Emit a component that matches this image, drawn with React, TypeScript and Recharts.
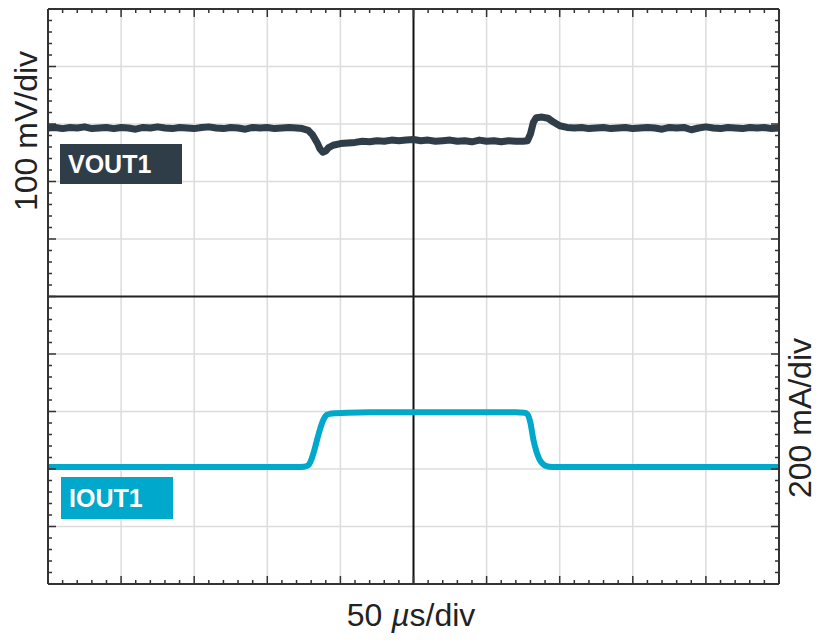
import React from "react";
import {
  ComposedChart,
  Line,
  XAxis,
  YAxis,
  ReferenceLine,
} from "recharts";

// time base: 50 us/div, 10 divisions
const TIME_DOMAIN: [number, number] = [0, 500];
const TIME_TICKS = Array.from({ length: 51 }, (_, i) => i * 10);
const TIME_GRID = [50, 100, 150, 200, 300, 350, 400, 450];
const TIME_CENTER = 250;

// VOUT1 deviation in mV (100 mV/div), IOUT1 in mA (200 mA/div)
const MV_DOMAIN: [number, number] = [-793, 207];
const MV_TICKS = Array.from({ length: 51 }, (_, i) => MV_DOMAIN[0] + i * 20);
const MV_GRID = [1, 2, 3, 4, 6, 7, 8, 9].map((k) => MV_DOMAIN[0] + k * 100);
const MV_CENTER = MV_DOMAIN[0] + 500;
const MA_DOMAIN: [number, number] = [-407, 1593];
const MA_TICKS = Array.from({ length: 51 }, (_, i) => MA_DOMAIN[0] + i * 40);

const VOUT_T = [
  0, 5, 10, 15, 20, 25, 30, 35, 40, 45, 50, 55, 60, 65, 70, 75, 80, 85, 90, 95,
  100, 105, 110, 115, 120, 125, 130, 135, 140, 145, 150, 155, 160, 165, 170,
  174, 178, 181, 184, 186, 188, 190, 192, 195, 200, 205, 210, 215, 220, 225,
  230, 235, 240, 245, 250, 255, 260, 265, 270, 275, 280, 285, 290, 295, 300,
  305, 310, 315, 320, 325, 328, 330, 332, 334, 338, 342, 346, 350, 355, 360,
  365, 370, 375, 380, 385, 390, 395, 400, 405, 410, 415, 420, 425, 430, 435,
  440, 445, 450, 455, 460, 465, 470, 475, 480, 485, 490, 495, 500,
];
const VOUT_MV = [
  0, 1, -1, 1, 0, 2, -1, 0, 1, -1, 1, 0, -2, 1, 0, 2, 0, -1, 1, 0,
  -1, 1, 2, 0, -1, 1, 0, -2, 1, 0, 1, -1, 0, 1, 0,
  -1, -4, -12, -25, -36, -42, -40, -34, -30, -27, -26, -25, -23, -24, -22,
  -23, -21, -22, -21, -20, -22, -21, -23, -22, -21, -23, -22, -24, -21, -23,
  -22, -24, -22, -23, -23, -22, -10, 10, 18, 19, 17, 10, 4, 1, 0,
  1, -1, 0, 1, -1, 0, 1, -1, 0, 1, 0, -2, 1, 0, 1,
  -3, 0, 2, 0, -1, 1, 0, -1, 1, 0, 1, -1, 0,
];

const IOUT_T = [
  0, 170, 175, 178, 180, 182, 184, 186, 188, 190, 191, 193, 197, 205, 220, 250,
  300, 320, 326, 328, 330, 332, 334, 336, 338, 341, 345, 350, 500,
];
const IOUT_MA = [
  0, 0, 1, 6, 24, 55, 94, 130, 160, 178, 182, 185, 187, 189, 190, 190,
  190, 190, 189, 183, 153, 95, 55, 28, 13, 3, 0, 0, 0,
];

const voutData = VOUT_T.map((t, i) => ({ t, v: VOUT_MV[i] }));
const ioutData = IOUT_T.map((t, i) => ({ t, v: IOUT_MA[i] }));

const W = 819;
const H = 641;
const PLOT = { left: 48, right: 779, top: 9, bottom: 584 };
const FRAME = "#333333";
const GRID = "#dcdcdc";
const VOUT_COLOR = "#2f3d48";
const IOUT_COLOR = "#00a8cc";
const FONT = "'Liberation Sans', Arial, sans-serif";

const isMajor = (value: number, min: number, step: number) =>
  Math.round((value - min) / step) % 5 === 0;

// bottom axis ticks also draw the matching marks on the top frame
const TimeTick = (props: any) => {
  const { x, payload } = props;
  const len = isMajor(payload.value, 0, 10) ? 8 : 4;
  return (
    <g>
      <line x1={x} x2={x} y1={PLOT.bottom} y2={PLOT.bottom - len} stroke={FRAME} strokeWidth={1.5} />
      <line x1={x} x2={x} y1={PLOT.top} y2={PLOT.top + len} stroke={FRAME} strokeWidth={1.5} />
    </g>
  );
};
const LeftTick = (props: any) => {
  const { y, payload } = props;
  const len = isMajor(payload.value, MV_DOMAIN[0], 20) ? 8 : 4;
  return <line x1={PLOT.left} x2={PLOT.left + len} y1={y} y2={y} stroke={FRAME} strokeWidth={1.5} />;
};
const RightTick = (props: any) => {
  const { y, payload } = props;
  const len = isMajor(payload.value, MA_DOMAIN[0], 40) ? 8 : 4;
  return <line x1={PLOT.right} x2={PLOT.right - len} y1={y} y2={y} stroke={FRAME} strokeWidth={1.5} />;
};

const tagStyle: React.CSSProperties = {
  position: "absolute",
  color: "#fff",
  fontFamily: FONT,
  fontWeight: 700,
  fontSize: 25,
  lineHeight: "1",
  boxSizing: "border-box",
  display: "flex",
  alignItems: "center",
};

export default function App() {
  return (
    <div style={{ position: "absolute", left: 0, top: 0, width: W, height: H, background: "#fff" }}>
      <ComposedChart width={W} height={H} margin={{ top: 0, right: 0, bottom: 0, left: 0 }}>
        <XAxis
          xAxisId="time"
          dataKey="t"
          type="number"
          domain={TIME_DOMAIN}
          ticks={TIME_TICKS}
          interval={0}
          height={H - PLOT.bottom}
          axisLine={{ stroke: FRAME, strokeWidth: 2 }}
          tickLine={false}
          tick={TimeTick}
          label={() => (
            <text x={411} y={626} textAnchor="middle" fontFamily={FONT} fontSize={32} fill="#222">
              50 <tspan fontStyle="italic">µ</tspan>s/div
            </text>
          )}
        />
        <XAxis
          xAxisId="top"
          orientation="top"
          type="number"
          domain={TIME_DOMAIN}
          height={PLOT.top}
          axisLine={{ stroke: FRAME, strokeWidth: 2 }}
          tickLine={false}
          tick={false}
        />
        <YAxis
          yAxisId="mv"
          type="number"
          domain={MV_DOMAIN}
          ticks={MV_TICKS}
          interval={0}
          width={PLOT.left}
          allowDataOverflow
          axisLine={{ stroke: FRAME, strokeWidth: 2 }}
          tickLine={false}
          tick={LeftTick}
          label={() => (
            <text x={37} y={131} transform="rotate(-90 37 131)" textAnchor="middle" fontFamily={FONT} fontSize={32} fill="#222">
              100 mV/div
            </text>
          )}
        />
        <YAxis
          yAxisId="ma"
          orientation="right"
          type="number"
          domain={MA_DOMAIN}
          ticks={MA_TICKS}
          interval={0}
          width={W - PLOT.right}
          allowDataOverflow
          axisLine={{ stroke: FRAME, strokeWidth: 2 }}
          tickLine={false}
          tick={RightTick}
          label={() => (
            <text x={811} y={418} transform="rotate(-90 811 418)" textAnchor="middle" fontFamily={FONT} fontSize={32} fill="#222">
              200 mA/div
            </text>
          )}
        />

        {TIME_GRID.map((t) => (
          <ReferenceLine key={`gx${t}`} xAxisId="time" yAxisId="mv" x={t} stroke={GRID} strokeWidth={1.5} zIndex={-100} />
        ))}
        {MV_GRID.map((v) => (
          <ReferenceLine key={`gy${v}`} xAxisId="time" yAxisId="mv" y={v} stroke={GRID} strokeWidth={1.5} zIndex={-100} />
        ))}
        <ReferenceLine xAxisId="time" yAxisId="mv" x={TIME_CENTER} stroke="#111" strokeWidth={2} zIndex={-50} />
        <ReferenceLine xAxisId="time" yAxisId="mv" y={MV_CENTER} stroke="#222" strokeWidth={2} zIndex={-50} />

        <Line
          xAxisId="time"
          yAxisId="mv"
          data={voutData}
          dataKey="v"
          type="linear"
          stroke={VOUT_COLOR}
          strokeWidth={7}
          strokeLinejoin="round"
          dot={false}
          isAnimationActive={false}
        />
        <Line
          xAxisId="time"
          yAxisId="ma"
          data={ioutData}
          dataKey="v"
          type="monotone"
          stroke={IOUT_COLOR}
          strokeWidth={6}
          dot={false}
          isAnimationActive={false}
        />
      </ComposedChart>

      <div style={{ ...tagStyle, left: 60, top: 144, width: 122, height: 40, background: VOUT_COLOR, paddingLeft: 8 }}>
        VOUT1
      </div>
      <div style={{ ...tagStyle, left: 61, top: 477, width: 112, height: 42, background: IOUT_COLOR, paddingLeft: 8 }}>
        IOUT1
      </div>
    </div>
  );
}
